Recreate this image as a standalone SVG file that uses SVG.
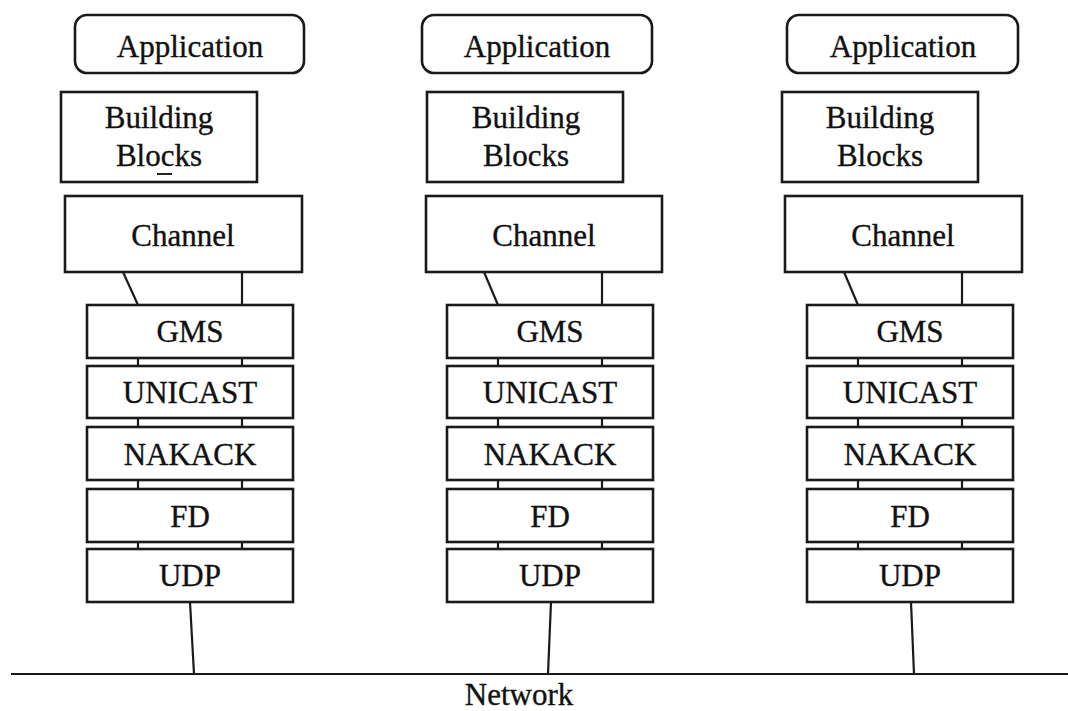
<svg xmlns="http://www.w3.org/2000/svg" width="1068" height="711" viewBox="0 0 1068 711">
<style>
.b{fill:#fff;stroke:#1a1a1a;stroke-width:2.6}
.t{font-family:"Liberation Serif","Times New Roman",serif;font-size:31px;fill:#111;stroke:#111;stroke-width:0.35;text-anchor:middle}
.c{stroke:#1a1a1a;stroke-width:2.2;fill:none}
</style>
<rect width="1068" height="711" fill="#fff"/>
<g id="connectors">
<line class="c" x1="11" y1="674" x2="1068" y2="674"/>
<path class="c" d="M123 272L138 305M242 272V305M138 358V366M242 358V366M138 418V427M242 418V427M138 480V489M242 480V489M138 542V549M242 542V549M190 602L194 674"/>
<path class="c" d="M484 272L498 305M602 272V305M498 358V366M602 358V366M498 418V427M602 418V427M498 480V489M602 480V489M498 542V549M602 542V549M551 602L548 674"/>
<path class="c" d="M844 272L858 305M962 272V305M858 358V366M962 358V366M858 418V427M962 418V427M858 480V489M962 480V489M858 542V549M962 542V549M911 602L914 674"/>
</g>
<g id="s1-app"><rect class="b" x="75" y="15" width="229" height="58" rx="12"/><text class="t" x="190" y="57">Application</text></g>
<g id="s1-bb"><rect class="b" x="61" y="92" width="196" height="90"/><text class="t" x="159" y="128">Building</text><text class="t" x="159" y="166">Blocks</text><line x1="157" y1="174" x2="172" y2="174" stroke="#222" stroke-width="2"/></g>
<g id="s1-ch"><rect class="b" x="65" y="196" width="237" height="76"/><text class="t" x="183" y="246">Channel</text></g>
<g id="s1-gms"><rect class="b" x="87" y="305" width="206" height="53"/><text class="t" x="190" y="342">GMS</text></g>
<g id="s1-uni"><rect class="b" x="87" y="366" width="206" height="52"/><text class="t" x="190" y="403">UNICAST</text></g>
<g id="s1-nak"><rect class="b" x="87" y="427" width="206" height="53"/><text class="t" x="190" y="465">NAKACK</text></g>
<g id="s1-fd"><rect class="b" x="87" y="489" width="206" height="53"/><text class="t" x="190" y="527">FD</text></g>
<g id="s1-udp"><rect class="b" x="87" y="549" width="206" height="53"/><text class="t" x="190" y="586">UDP</text></g>

<g id="s2-app"><rect class="b" x="422" y="15" width="230" height="58" rx="12"/><text class="t" x="537" y="57">Application</text></g>
<g id="s2-bb"><rect class="b" x="427" y="92" width="196" height="90"/><text class="t" x="526" y="128">Building</text><text class="t" x="526" y="166">Blocks</text></g>
<g id="s2-ch"><rect class="b" x="426" y="196" width="236" height="76"/><text class="t" x="544" y="246">Channel</text></g>
<g id="s2-gms"><rect class="b" x="447" y="305" width="206" height="53"/><text class="t" x="550" y="342">GMS</text></g>
<g id="s2-uni"><rect class="b" x="447" y="366" width="206" height="52"/><text class="t" x="550" y="403">UNICAST</text></g>
<g id="s2-nak"><rect class="b" x="447" y="427" width="206" height="53"/><text class="t" x="550" y="465">NAKACK</text></g>
<g id="s2-fd"><rect class="b" x="447" y="489" width="206" height="53"/><text class="t" x="550" y="527">FD</text></g>
<g id="s2-udp"><rect class="b" x="447" y="549" width="206" height="53"/><text class="t" x="550" y="586">UDP</text></g>

<g id="s3-app"><rect class="b" x="787" y="15" width="231" height="58" rx="12"/><text class="t" x="903" y="57">Application</text></g>
<g id="s3-bb"><rect class="b" x="782" y="92" width="196" height="90"/><text class="t" x="880" y="128">Building</text><text class="t" x="880" y="166">Blocks</text></g>
<g id="s3-ch"><rect class="b" x="785" y="196" width="237" height="76"/><text class="t" x="903" y="246">Channel</text></g>
<g id="s3-gms"><rect class="b" x="807" y="305" width="206" height="53"/><text class="t" x="910" y="342">GMS</text></g>
<g id="s3-uni"><rect class="b" x="807" y="366" width="206" height="52"/><text class="t" x="910" y="403">UNICAST</text></g>
<g id="s3-nak"><rect class="b" x="807" y="427" width="206" height="53"/><text class="t" x="910" y="465">NAKACK</text></g>
<g id="s3-fd"><rect class="b" x="807" y="489" width="206" height="53"/><text class="t" x="910" y="527">FD</text></g>
<g id="s3-udp"><rect class="b" x="807" y="549" width="206" height="53"/><text class="t" x="910" y="586">UDP</text></g>

<g id="network"><text class="t" x="519" y="705">Network</text></g>
</svg>
